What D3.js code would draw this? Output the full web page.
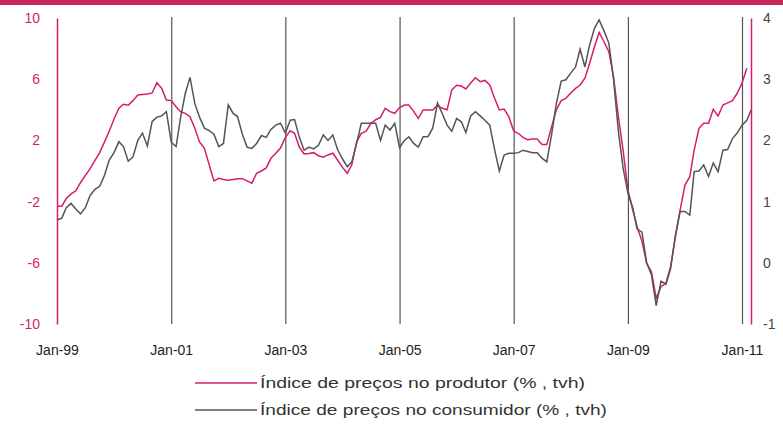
<!DOCTYPE html>
<html>
<head>
<meta charset="utf-8">
<script src="https://cdn.jsdelivr.net/npm/d3@7"></script>
<style>
	body { margin: 0; background: #fff; }
	svg { display: block; font-family: "Liberation Sans", Arial, sans-serif; }
</style>
</head>
<body>
<svg id="chart" width="783" height="427"></svg>
<script>
// monthly values, Jan-99 onwards
var ppiValues = [
	-2.3, -2.3, -1.8, -1.5, -1.3, -0.75, -0.3, 0.15, 0.7, 1.2, 1.9, 2.6,
	3.4, 4.1, 4.36, 4.3, 4.6, 4.97, 5.0, 5.03, 5.1, 5.77, 5.4, 4.64,
	4.6, 4.2, 3.88, 3.77, 3.55, 2.79, 1.9, 1.48, 0.4, -0.65, -0.48, -0.55,
	-0.6, -0.55, -0.5, -0.5, -0.65, -0.8, -0.15, 0.0, 0.2, 0.83, 1.16, 1.5,
	2.2, 2.63, 2.46, 1.55, 1.11, 1.15, 1.2, 1.0, 0.9, 1.05, 1.16, 0.72,
	0.25, -0.15, 0.39, 1.9, 2.46, 2.6, 3.1, 3.35, 3.5, 4.1, 3.88, 3.77,
	4.15, 4.31, 4.31, 3.9, 3.44, 3.99, 3.99, 3.99, 4.3, 4.1, 4.0, 5.3,
	5.6, 5.55, 5.36, 5.75, 6.1, 5.84, 5.92, 5.62, 4.75, 3.99, 4.05, 3.55,
	2.61, 2.45, 2.2, 2.05, 2.09, 2.09, 1.74, 1.74, 2.9, 4.0, 4.6, 4.75,
	5.1, 5.4, 5.62, 6.06, 7.04, 8.12, 9.06, 8.45, 7.8, 6.17, 3.55, 1.37,
	-1.24, -2.55, -3.64, -4.6, -6.03, -6.6, -8.32, -7.56, -7.34, -6.25, -4.3, -2.55,
	-0.92, -0.37, 1.37, 2.79, 3.12, 3.12, 4.03, 3.59, 4.31, 4.45, 4.6, 5.08,
	5.73, 6.71
];
var cpiValues = [
	0.7, 0.73, 0.9, 0.97, 0.88, 0.8, 0.9, 1.1, 1.2, 1.25, 1.43, 1.68,
	1.8, 1.98, 1.9, 1.66, 1.73, 2.0, 2.12, 1.91, 2.31, 2.38, 2.4, 2.47,
	1.97, 1.9, 2.36, 2.77, 3.03, 2.6, 2.38, 2.2, 2.16, 2.1, 1.9, 1.95,
	2.58, 2.44, 2.39, 2.1, 1.89, 1.87, 1.95, 2.08, 2.05, 2.18, 2.25, 2.28,
	2.12, 2.33, 2.34, 2.05, 1.84, 1.89, 1.86, 1.92, 2.09, 2.0, 2.09, 1.85,
	1.7, 1.57, 1.65, 1.95, 2.28, 2.28, 2.28, 2.28, 2.0, 2.25, 2.17, 2.28,
	1.88, 2.0, 2.06, 1.95, 1.89, 2.06, 2.06, 2.2, 2.61, 2.44, 2.25, 2.15,
	2.36, 2.3, 2.13, 2.4, 2.47, 2.4, 2.33, 2.25, 1.85, 1.5, 1.76, 1.79,
	1.79, 1.8, 1.84, 1.82, 1.8, 1.8, 1.71, 1.65, 2.1, 2.6, 2.97, 2.99,
	3.1, 3.2, 3.49, 3.2, 3.56, 3.83, 3.97, 3.79, 3.59, 3.0, 2.15, 1.55,
	1.14, 0.9, 0.55, 0.5, 0.0, -0.2, -0.7, -0.3, -0.35, -0.1, 0.45, 0.84,
	0.84, 0.78, 1.49, 1.5, 1.6, 1.41, 1.63, 1.49, 1.84, 1.85, 2.03, 2.12,
	2.25, 2.33, 2.5
];
var leftTicks = [-10, -6, -2, 2, 6, 10];
var rightTicks = [-1, 0, 1, 2, 3, 4];
var tickYears = [1999, 2001, 2003, 2005, 2007, 2009, 2011];
var legendLabels = ["Índice de preços no produtor (% , tvh)", "Índice de preços no consumidor (% , tvh)"];

(function () {
	var pink = "#d81b72",
		band = "#c8285a",
		grey = "#555";

	var svg = d3.select("#chart");
	var plotTop = 17, plotBottom = 324, plotLeft = 57, plotRight = 751;

	function monthDate(i) { return new Date(1999, i, 1); }
	function plain(d) { return String(d); } // keep hyphen minus like the original

	var x = d3.scaleTime()
		.domain([new Date(1999, 0, 1), new Date(2011, 0, 1)])
		.range([plotLeft, 742]);
	var yL = d3.scaleLinear().domain([-10, 10]).range([plotBottom, plotTop + 1]);
	var yR = d3.scaleLinear().domain([-1, 4]).range([plotBottom, plotTop + 1]);

	svg.append("rect")
		.attr("x", 0).attr("y", 0)
		.attr("width", 783).attr("height", 5)
		.attr("fill", band);

	// vertical gridlines + date labels
	var xAxis = svg.append("g")
		.attr("transform", "translate(0," + plotBottom + ")")
		.call(d3.axisBottom(x)
			.tickValues(tickYears.map(function (y) { return new Date(y, 0, 1); }))
			.tickFormat(d3.timeFormat("%b-%y"))
			.tickSize(-(plotBottom - plotTop))
			.tickPadding(21));
	xAxis.select(".domain").remove();
	xAxis.selectAll(".tick line").attr("stroke", grey).attr("stroke-width", 1.2);
	xAxis.selectAll(".tick text")
		.attr("fill", "#222")
		.style("font-size", "14px");
	xAxis.selectAll(".tick").filter(function (d, i) { return i == 0; }).select("line").remove();

	var leftAxis = svg.append("g")
		.attr("transform", "translate(" + plotLeft + ",0)")
		.call(d3.axisLeft(yL).tickValues(leftTicks).tickFormat(plain).tickSize(0).tickPadding(17));
	leftAxis.select(".domain").attr("stroke", pink).attr("stroke-width", 1.5);
	leftAxis.selectAll(".tick text").attr("fill", pink).style("font-size", "14px");

	var rightAxis = svg.append("g")
		.attr("transform", "translate(" + plotRight + ",0)")
		.call(d3.axisRight(yR).tickValues(rightTicks).tickFormat(plain).tickSize(0).tickPadding(12));
	rightAxis.select(".domain").attr("stroke", pink).attr("stroke-width", 1.5);
	rightAxis.selectAll(".tick text").attr("fill", "#444").style("font-size", "14px");

	var ppiLine = d3.line()
		.x(function (d, i) { return x(monthDate(i)); })
		.y(function (d) { return yL(d); });
	var cpiLine = d3.line()
		.x(function (d, i) { return x(monthDate(i)); })
		.y(function (d) { return yR(d); });

	svg.append("path")
		.attr("d", ppiLine(ppiValues))
		.attr("fill", "none")
		.attr("stroke", pink)
		.attr("stroke-width", 1.5);
	svg.append("path")
		.attr("d", cpiLine(cpiValues))
		.attr("fill", "none")
		.attr("stroke", grey)
		.attr("stroke-width", 1.5);

	// legend
	var legendWidths = [325, 347];
	var legend = svg.append("g").attr("class", "legend");
	legendLabels.forEach(function (label, i) {
		var ly = 383 + i * 27;
		legend.append("line")
			.attr("x1", 195).attr("x2", 257)
			.attr("y1", ly).attr("y2", ly)
			.attr("stroke", i == 0 ? pink : grey)
			.attr("stroke-width", 1.5);
		legend.append("text")
			.attr("x", 260).attr("y", ly + 5)
			.attr("fill", "#333")
			.attr("textLength", legendWidths[i])
			.attr("lengthAdjust", "spacingAndGlyphs")
			.style("font-size", "14px")
			.text(label);
	});
})();
</script>
</body>
</html>
